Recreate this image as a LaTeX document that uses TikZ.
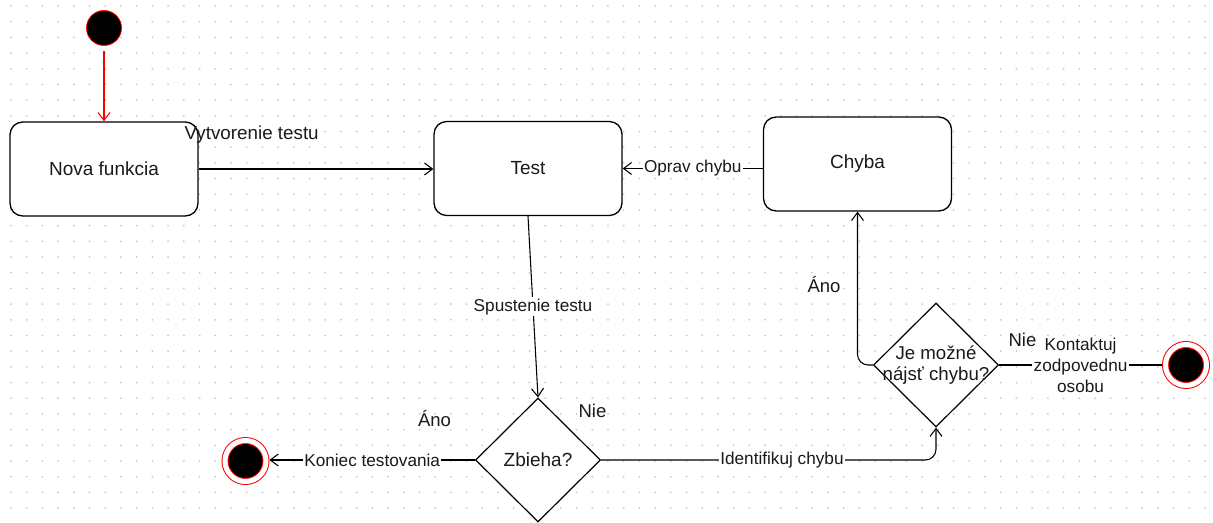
\documentclass[tikz,border=0pt]{standalone}
\usepackage{fontspec}
\setmainfont{Liberation Sans}
\usetikzlibrary{shapes.geometric,arrows.meta}
\definecolor{dotc}{HTML}{C8C8C8}
\definecolor{txt}{HTML}{1A1A1A}
\begin{document}
\begin{tikzpicture}[x=0.75pt,y=-0.75pt,
 box/.style={draw, line width=1pt, rounded corners=9.5pt, fill=white, minimum width=141pt, minimum height=70.5pt, text=txt, font=\fontsize{14.25}{17}\selectfont},
 dec/.style={draw, line width=0.9pt, diamond, fill=white, inner sep=0pt, minimum width=93.75pt, minimum height=93pt, text=txt, font=\fontsize{14.25}{17}\selectfont},
 startnode/.style={circle, fill=black, draw=red, line width=0.6pt, minimum size=26.25pt, inner sep=0pt},
 endnode/.style={circle, fill=black, draw=red, line width=0.75pt, double=white, double distance=3.75pt, minimum size=30.75pt, inner sep=0pt, outer sep=2.6pt},
 conn/.style={draw, line width=0.8pt, -{Straight Barb[length=6pt,width=9pt]}},
 elabel/.style={fill=white, inner sep=1pt, text=txt, font=\fontsize{12.9}{15.75}\selectfont},
 guard/.style={text=txt, font=\fontsize{13.9}{16}\selectfont}
]
\useasboundingbox (0,0) rectangle (1213,523);
\fill[white] (0,0) rectangle (1213,523);
% dotted grid
\foreach \i in {0,...,76} {
  \foreach \j in {0,...,32} {
    \fill[dotc] ({11+\i*15.71},{6+\j*15.69}) circle[radius=0.75pt];
  }
}
% nodes
\node[startnode] (start) at (104,28) {};
\node[box] (nova) at (104,169) {Nova funkcia};
\node[box] (test) at (528,168.5) {Test};
\node[box] (chyba) at (857.5,164) {Chyba};
\node[dec] (zb) at (538,460) {Zbieha?};
\node[dec, label={[name=jet, align=center, text=txt, font=\fontsize{14}{16.3}\selectfont]center:{Je možné\\nájsť chybu?}}] (je) at (936,365) {};
\node[endnode] (end1) at (245.5,461) {};
\node[endnode] (end2) at (1186,365) {};
% connectors
\draw[conn, red, shorten <=3.5pt] (start) -- (nova);
\draw[conn] (nova.east) -- (nova.east -| test.west)
  node[pos=0, xshift=39.75pt, yshift=25.5pt, text=txt, font=\fontsize{14.1}{17}\selectfont] (vt) {Vytvorenie testu};
\draw[conn] (chyba.west |- test.east) -- (test.east) node[elabel, midway] (oc) {Oprav chybu};
\draw[conn] (test.south) -- (zb.north) node[elabel, midway] (st) {Spustenie testu};
\draw[conn] (zb.west) -- (zb.west -| end1.east) node[elabel, midway] (kt) {Koniec testovania};
\draw[conn, rounded corners=8pt] (zb.east) -| (je.south) node[elabel, pos=0.27] (ic) {Identifikuj chybu};
\draw[conn, rounded corners=8pt] (je.west) -| (chyba.south);
\draw[line width=0.8pt] (je.east) -- (end2.west) node[elabel, midway, align=center] (kz) {Kontaktuj\\zodpovednu\\osobu};
% guards
\node[guard] (a1) at (434.5,419) {Áno};
\node[guard] (n1) at (592.5,410.5) {Nie};
\node[guard] (a2) at (824,285) {Áno};
\node[guard] (n2) at (1022.5,340) {Nie};
\end{tikzpicture}
\end{document}
